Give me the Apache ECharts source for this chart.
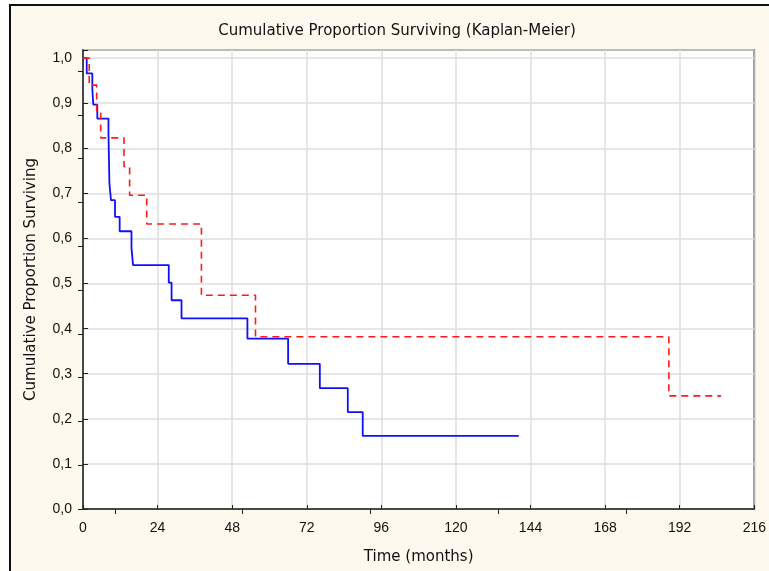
<!DOCTYPE html>
<html>
<head>
<meta charset="utf-8">
<script src="https://cdn.jsdelivr.net/npm/echarts@6/dist/echarts.min.js"></script>
<style>
  html, body { margin: 0; padding: 0; background: #ffffff; }
  #box { width: 769px; height: 571px; }
</style>
</head>
<body>
<div id="box"></div>
<script>
// Kaplan-Meier steps: time (months) where the curve drops, and the value after the drop
var blueTimes  = [0, 1.2, 3.0, 3.3, 4.6, 8.2, 8.5, 9.0, 10.3, 11.8, 15.6, 16.1, 27.6, 28.5, 31.7, 52.9, 66.0, 76.2, 85.2, 90.0, 140.2];
var blueValues = [1.0, 0.966, 0.931, 0.897, 0.866, 0.831, 0.722, 0.685, 0.648, 0.616, 0.579, 0.541, 0.502, 0.463, 0.423, 0.378, 0.322, 0.268, 0.215, 0.162, 0.162];
var redTimes   = [0, 2.0, 4.4, 5.7, 13.2, 15.0, 20.5, 38.1, 55.5, 188.5, 205.3];
var redValues  = [1.0, 0.94, 0.881, 0.823, 0.759, 0.696, 0.632, 0.474, 0.382, 0.251, 0.251];

var xTicks = [0, 24, 48, 72, 96, 120, 144, 168, 192, 216];
var topTicks = [10.3, 51.1, 92.5, 133.6, 174.8];     // small marks on the top edge
var rightTicks = [0, 1, 2, 3, 4, 5, 6, 7, 8, 9, 10];  // small marks on the right edge

var LABEL_FONT = "'Liberation Sans', Arial, sans-serif";
var NAME_FONT = "'DejaVu Sans', sans-serif";

function pairs(ts, vs) {
    var out = [];
    for (var i = 0; i < ts.length; i++) out.push([ts[i], vs[i]]);
    return out;
}

var chart = echarts.init(document.getElementById('box'));
var option = {
    backgroundColor: '#ffffff',
    animation: false,
    title: {
        text: 'Cumulative Proportion Surviving (Kaplan-Meier)',
        left: 392,
        top: 19,
        textAlign: 'center',
        textStyle: { fontFamily: NAME_FONT, fontSize: 15, fontWeight: 'normal', color: '#111' }
    },
    graphic: [{
        type: 'rect',
        z: -10,
        shape: { x: 10, y: 5, width: 800, height: 620 },
        style: { fill: '#fef9ee', stroke: '#111', lineWidth: 2 }
    }],
    grid: {
        left: 83, right: 14, top: 50, bottom: 62,
        show: true,
        backgroundColor: '#ffffff',
        borderColor: '#222',
        borderWidth: 1.5
    },
    xAxis: [{
        type: 'value',
        min: 0, max: 216, interval: 24,
        name: 'Time (months)',
        nameLocation: 'middle',
        nameGap: 41,
        nameTextStyle: { fontFamily: NAME_FONT, fontSize: 15, color: '#111' },
        axisLine: { show: true, lineStyle: { color: '#222', width: 1.5 } },
        axisTick: { show: true, inside: true, length: 4, lineStyle: { color: '#222' }, customValues: xTicks },
        axisLabel: { fontFamily: LABEL_FONT, fontSize: 14, color: '#111', margin: 12, customValues: xTicks },
        splitLine: { show: true, lineStyle: { color: '#dedede', width: 1.5 } }
    }, {
        type: 'value',
        position: 'top',
        min: 0, max: 216,
        axisLine: { show: false },
        axisTick: { show: true, inside: true, length: 5, lineStyle: { color: '#222' }, customValues: topTicks },
        axisLabel: { show: false },
        splitLine: { show: false }
    }],
    yAxis: [{
        type: 'value',
        min: 0, max: 1.018, interval: 0.1,
        name: 'Cumulative Proportion Surviving',
        nameLocation: 'middle',
        nameGap: 44,
        nameTextStyle: { fontFamily: NAME_FONT, fontSize: 15, color: '#111' },
        axisLine: { show: true, lineStyle: { color: '#222', width: 1.5 } },
        axisTick: { show: true, inside: true, length: 5, lineStyle: { color: '#222' } },
        axisLabel: {
            fontFamily: LABEL_FONT, fontSize: 14, color: '#111', margin: 11,
            formatter: function (v) {
                if (v > 1.0001) return '';
                return v.toFixed(1).replace('.', ',');
            }
        },
        splitLine: { show: true, lineStyle: { color: '#dedede', width: 1.5 } }
    }, {
        type: 'value',
        position: 'right',
        min: 0, max: 10.48,
        axisLine: { show: false },
        axisTick: { show: true, inside: true, length: 5, lineStyle: { color: '#222' }, customValues: rightTicks },
        axisLabel: { show: false },
        splitLine: { show: false }
    }],
    series: [{
        name: 'blue',
        type: 'line',
        step: 'end',
        showSymbol: false,
        data: pairs(blueTimes, blueValues),
        lineStyle: { color: '#1010ff', width: 1.8 },
        z: 3
    }, {
        name: 'red',
        type: 'line',
        step: 'end',
        showSymbol: false,
        data: pairs(redTimes, redValues),
        lineStyle: { color: '#ff1a1a', width: 1.6, type: [7, 5] },
        z: 4
    }]
};
chart.setOption(option);
</script>
</body>
</html>
